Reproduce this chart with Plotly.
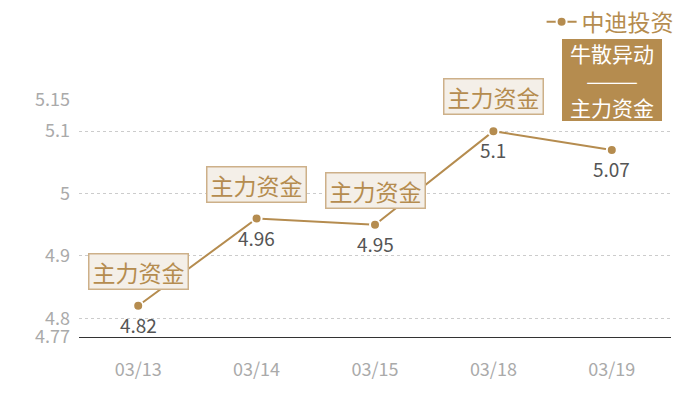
import plotly.graph_objects as go

dates = ["03/13", "03/14", "03/15", "03/18", "03/19"]
prices = [4.82, 4.96, 4.95, 5.1, 5.07]
tags = ["主力资金", "主力资金", "主力资金", "主力资金", "牛散异动<br>———<br>主力资金"]
series_name = "中迪投资"
y_ticks = [4.77, 4.8, 4.9, 5, 5.1, 5.15]

GOLD = "#b58c4f"
FONT = "Noto Sans CJK SC"

fig = go.Figure()
fig.add_trace(go.Scatter(
    x=dates, y=prices, mode="lines+markers", name=series_name,
    line=dict(color=GOLD, width=2),
    marker=dict(size=10, color=GOLD, line=dict(color="white", width=2)),
    showlegend=True,
))

for i, (d, v, t) in enumerate(zip(dates, prices, tags)):
    fig.add_annotation(x=d, y=v, text=str(v), showarrow=False,
                       yanchor="top", yshift=-3,
                       font=dict(family=FONT, size=19, color="#555555"))
    if i < len(dates) - 1:
        fig.add_annotation(x=d, y=v, text=t, showarrow=False,
                           yanchor="bottom", yshift=16,
                           font=dict(family=FONT, size=23, color=GOLD),
                           bgcolor="#f4efe8", bordercolor="#cdb089",
                           borderwidth=1.5, borderpad=1, width=96, height=32)
    else:
        fig.add_annotation(x=d, y=v, text=t, showarrow=False,
                           yanchor="bottom", yshift=29,
                           font=dict(family=FONT, size=21, color="white"),
                           bgcolor=GOLD, borderwidth=0, borderpad=0,
                           width=100, height=82)

fig.update_layout(
    width=700, height=400,
    margin=dict(l=71, r=37, t=92, b=71, autoexpand=False),
    plot_bgcolor="white", paper_bgcolor="white",
    font=dict(family=FONT),
    legend=dict(xref="container", x=0.958, xanchor="right",
                yref="paper", y=1.33, yanchor="middle",
                font=dict(size=23, color=GOLD), bgcolor="rgba(0,0,0,0)",
                itemwidth=30),
    xaxis=dict(type="category", range=[-0.5, len(dates) - 0.5],
               showgrid=False, showline=True,
               linecolor="#333333", linewidth=1, automargin=False,
               tickfont=dict(size=18, color="#aaaaaa"),
               ticks="", ticklabelstandoff=16, fixedrange=True),
    yaxis=dict(range=[4.77, 5.15], tickvals=y_ticks,
               ticktext=[str(t) for t in y_ticks], automargin=False,
               showgrid=True, gridcolor="#cccccc", griddash="dot",
               gridwidth=1, zeroline=False, showline=False,
               tickfont=dict(size=18, color="#aaaaaa"),
               ticklabelstandoff=8, fixedrange=True),
)

fig.write_html("out.html")
